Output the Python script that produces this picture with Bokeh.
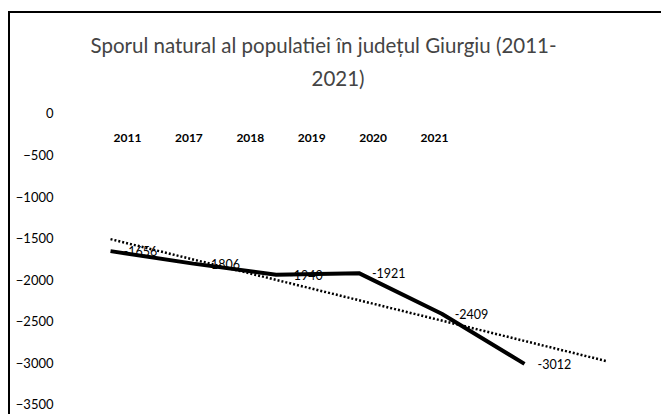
from bokeh.plotting import figure
from bokeh.models import Range1d, FixedTicker, Title
from bokeh.core.properties import value
from bokeh.embed import file_html
from bokeh.resources import INLINE
import numpy as np

# ---- data ----
years = ["2011", "2017", "2018", "2019", "2020", "2021"]
spor_natural = [-1656, -1806, -1940, -1921, -2409, -3012]
y_ticks = [0, -500, -1000, -1500, -2000, -2500, -3000, -3500]
title_line1 = "Sporul natural al populatiei în județul Giurgiu (2011-"
title_line2 = "2021)"

FONT = "Lato"
idx = list(range(len(years)))

# linear trendline (least squares), forecast forward one period
slope, intercept = np.polyfit(idx, spor_natural, 1)
trend_x = [0, len(years)]
trend_y = [intercept + slope * x for x in trend_x]

p = figure(width=653, height=403,
           x_range=Range1d(-0.58, 6.534), y_range=Range1d(-3645, 216),
           output_backend="svg", toolbar_location=None,
           min_border_left=52, min_border_right=12,
           min_border_top=82, min_border_bottom=0)
p.styles = {"border-left": "2px solid black", "border-top": "2px solid black"}
p.margin = (11, 0, 0, 8)

p.title.text = title_line1
p.title.align = "left"
p.title.text_font = FONT
p.title.text_font_size = "20.5px"
p.title.text_font_style = "normal"
p.title.offset = 28
p.title.standoff = 2
p.add_layout(Title(text=title_line2, align="left", text_font=FONT,
                   text_font_size="20.5px", text_font_style="normal",
                   offset=249, standoff=12), "above")

p.grid.visible = False
p.outline_line_color = None
p.background_fill_color = "white"
p.border_fill_color = "white"
p.xaxis.visible = False

ya = p.yaxis[0]
ya.ticker = FixedTicker(ticks=y_ticks)
ya.axis_line_color = None
ya.major_tick_line_color = None
ya.minor_tick_line_color = None
ya.major_label_text_font = FONT
ya.major_label_text_font_size = "13px"
ya.major_label_text_color = "black"
ya.major_label_standoff = 3

# category labels row (drawn at the chart's horizontal axis position)
p.extra_x_ranges = {"lab": Range1d(-1.0586, 8.534)}
label_row_y = -300
p.text(x=idx, y=[label_row_y] * len(years), text=years, x_range_name="lab",
       text_align="center", text_baseline="middle",
       text_font=value(FONT), text_font_size="12px", text_font_style="bold",
       text_color="black")

p.line(trend_x, trend_y, line_color="black", line_width=2.5, line_dash="2 2")
p.line(idx, spor_natural, line_color="black", line_width=4)

p.text(x=idx, y=spor_natural, text=[str(v) for v in spor_natural],
       x_offset=13, text_align="left", text_baseline="middle",
       text_font=value(FONT), text_font_size="12.5px", text_color="black")

open("out.html", "w").write(file_html(p, INLINE))
